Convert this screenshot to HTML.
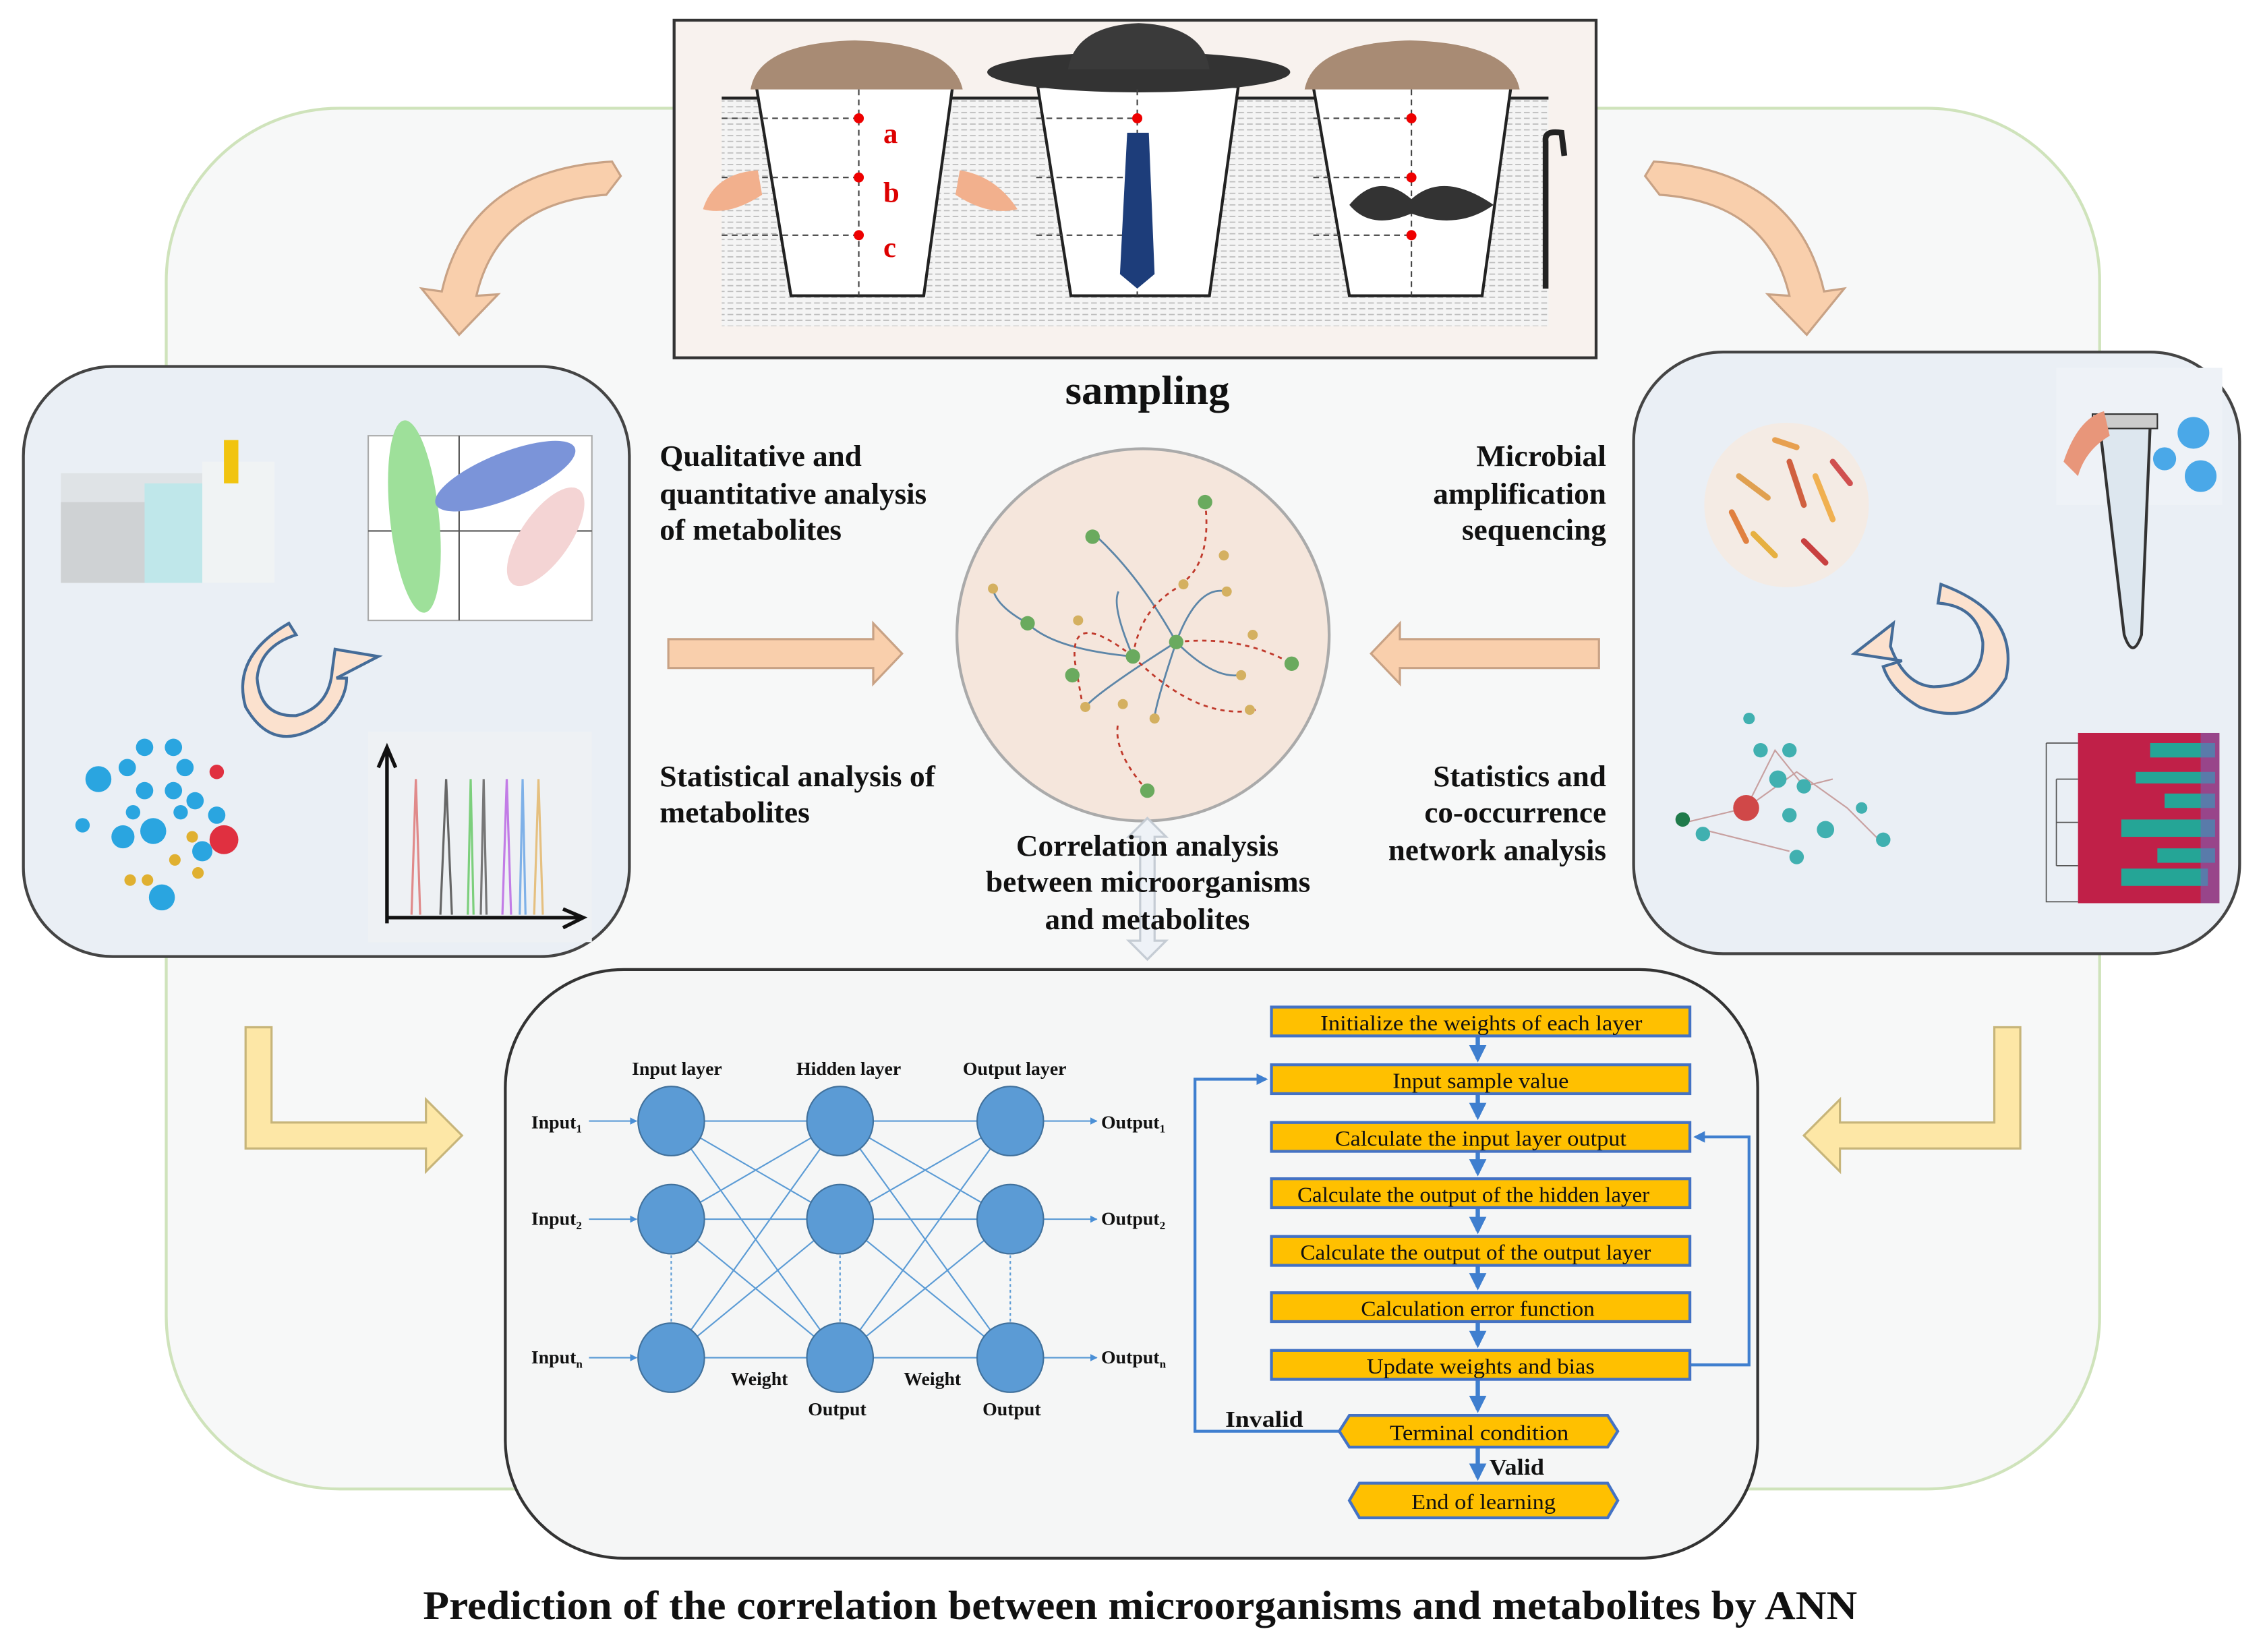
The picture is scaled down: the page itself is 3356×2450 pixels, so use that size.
<!DOCTYPE html>
<html><head><meta charset="utf-8"><style>
html,body{margin:0;padding:0;background:#fff}
svg{display:block}
text{font-family:"Liberation Serif",serif;font-weight:bold;fill:#111}
text.n{font-weight:normal}
</style></head><body>
<svg width="3356" height="2450" viewBox="0 0 1568 1145" xmlns="http://www.w3.org/2000/svg">
<defs>
<pattern id="hatch" width="6" height="4" patternUnits="userSpaceOnUse"><rect width="6" height="4" fill="#f4f4f4"/><line x1="0" y1="2" x2="4" y2="2" stroke="#bbb" stroke-width="0.8"/></pattern>
<marker id="ah" viewBox="0 0 10 10" refX="9" refY="5" markerWidth="5" markerHeight="5" orient="auto"><path d="M0,0L10,5L0,10z" fill="#4a8fd6"/></marker>
<marker id="ab" viewBox="0 0 10 10" refX="8" refY="5" markerWidth="4" markerHeight="4" orient="auto"><path d="M0,0L10,5L0,10z" fill="#3f7fcf"/></marker>
</defs>
<rect width="1568" height="1145" fill="#fff"/>
<rect x="115" y="75" width="1340" height="957" rx="120" fill="#f7f8f8" stroke="#cfe3bb" stroke-width="2"/>

<!-- sampling box -->
<rect x="467" y="14" width="639" height="234" fill="#f8f2ee" stroke="#333" stroke-width="2"/>
<rect x="500" y="68" width="573" height="158" fill="url(#hatch)"/>
<line x1="500" y1="68" x2="1073" y2="68" stroke="#222" stroke-width="2"/>
<g stroke="#222" stroke-width="2" fill="#fff">
<path d="M524,60 L660,60 L640,205 L548,205 Z"/>
<path d="M719,60 L858,60 L838,205 L742,205 Z"/>
<path d="M910,60 L1047,60 L1027,205 L935,205 Z"/>
</g>
<path d="M520,62 Q525,30 592,28 Q660,30 667,62 Z" fill="#a88b74"/>
<path d="M904,62 Q910,30 977,28 Q1047,30 1053,62 Z" fill="#a88b74"/>
<ellipse cx="789" cy="50" rx="105" ry="14" fill="#333"/>
<path d="M740,48 Q745,18 789,16 Q834,18 838,48 Z" fill="#3a3a3a"/>
<g stroke="#444" stroke-width="1" stroke-dasharray="4,3" fill="none">
<line x1="595" y1="62" x2="595" y2="205"/><line x1="788" y1="62" x2="788" y2="205"/><line x1="978" y1="62" x2="978" y2="205"/>
<line x1="500" y1="82" x2="595" y2="82"/><line x1="500" y1="123" x2="595" y2="123"/><line x1="500" y1="163" x2="595" y2="163"/>
<line x1="718" y1="82" x2="788" y2="82"/><line x1="718" y1="123" x2="788" y2="123"/><line x1="718" y1="163" x2="788" y2="163"/>
<line x1="910" y1="82" x2="978" y2="82"/><line x1="910" y1="123" x2="978" y2="123"/><line x1="910" y1="163" x2="978" y2="163"/>
</g>
<g fill="#e00"><circle cx="595" cy="82" r="3.5"/><circle cx="595" cy="123" r="3.5"/><circle cx="595" cy="163" r="3.5"/><circle cx="788" cy="82" r="3.5"/><circle cx="978" cy="82" r="3.5"/><circle cx="978" cy="123" r="3.5"/><circle cx="978" cy="163" r="3.5"/></g>
<text x="612" y="99" font-size="20" style="fill:#d00">a</text>
<text x="612" y="140" font-size="20" style="fill:#d00">b</text>
<text x="612" y="178" font-size="20" style="fill:#d00">c</text>
<path d="M781,92 L796,92 L800,190 L788,200 L776,190 Z" fill="#1d3d7a"/>
<path d="M935,142 Q955,118 978,138 Q1000,118 1035,142 Q1010,160 978,148 Q950,160 935,142 Z" fill="#333"/>
<path d="M1071,200 L1071,98 Q1070,90 1082,92 L1084,108" stroke="#222" stroke-width="4" fill="none"/>
<path d="M487,145 Q495,120 525,118 L528,135 Q505,150 487,145 Z" fill="#f2b08d"/>
<path d="M665,118 Q690,122 705,145 Q685,150 662,135 Z" fill="#f2b08d"/>
<text x="738" y="280" font-size="28" textLength="114" lengthAdjust="spacingAndGlyphs">sampling</text>

<!-- curved arrows -->
<g fill="#f9cfac" stroke="#c8a285" stroke-width="1.5">
<path d="M430,122 L420,135 Q345,140 330,205 L345,204 L318,232 L292,200 L306,202 Q325,118 424,112 Z"/>
<path d="M1140,122 L1150,135 Q1225,140 1240,205 L1225,204 L1252,232 L1278,200 L1264,202 Q1245,118 1146,112 Z"/>
</g>

<!-- left panel -->
<rect x="16" y="254" width="420" height="409" rx="62" fill="#eaeff5" stroke="#444" stroke-width="2"/>
<rect x="42" y="328" width="148" height="76" fill="#dfe3e6"/>
<rect x="42" y="348" width="60" height="56" fill="#cfd2d4"/>
<rect x="100" y="335" width="40" height="69" fill="#bfe7ea"/>
<rect x="140" y="320" width="50" height="84" fill="#f0f3f4"/>
<rect x="155" y="305" width="10" height="30" fill="#f1c40f"/>
<rect x="255" y="302" width="155" height="128" fill="#fff" stroke="#aaa" stroke-width="1"/>
<line x1="318" y1="302" x2="318" y2="430" stroke="#555"/><line x1="255" y1="368" x2="410" y2="368" stroke="#555"/>
<ellipse cx="287" cy="358" rx="17" ry="67" transform="rotate(-6 287 358)" fill="#9ee09a"/>
<ellipse cx="350" cy="330" rx="52" ry="16" transform="rotate(-22 350 330)" fill="#7b94d9"/>
<ellipse cx="378" cy="372" rx="17" ry="40" transform="rotate(35 378 372)" fill="#f4d4d4"/>
<path d="M200,432 Q160,455 170,490 Q190,525 225,500 Q240,485 240,470 L233,470 L262,455 L232,450 L230,465 Q228,490 205,496 Q180,497 178,470 Q180,448 205,440 Z" fill="#fbe1ce" stroke="#456c98" stroke-width="2"/>
<g fill="#2aa5e0"><circle cx="100" cy="518" r="6"/><circle cx="120" cy="518" r="6"/><circle cx="88" cy="532" r="6"/><circle cx="128" cy="532" r="6"/><circle cx="100" cy="548" r="6"/><circle cx="120" cy="548" r="6"/><circle cx="68" cy="540" r="9"/><circle cx="150" cy="565" r="6"/><circle cx="135" cy="555" r="6"/><circle cx="106" cy="576" r="9"/><circle cx="85" cy="580" r="8"/><circle cx="57" cy="572" r="5"/><circle cx="140" cy="590" r="7"/><circle cx="112" cy="622" r="9"/><circle cx="92" cy="563" r="5"/><circle cx="125" cy="563" r="5"/></g>
<g fill="#e0b030"><circle cx="133" cy="580" r="4"/><circle cx="121" cy="596" r="4"/><circle cx="90" cy="610" r="4"/><circle cx="102" cy="610" r="4"/><circle cx="137" cy="605" r="4"/></g>
<circle cx="155" cy="582" r="10" fill="#e03040"/><circle cx="150" cy="535" r="5" fill="#e03040"/>
<rect x="255" y="507" width="155" height="146" fill="#eef1f4"/>
<g fill="none" stroke-width="1.5"><path d="M268,640 L268,520 M262,532 L268,518 L274,532" stroke="#111" stroke-width="2.5"/><path d="M268,636 L402,636 M390,630 L404,636 L390,643" stroke="#111" stroke-width="2.5"/>
<path d="M285,634 L288,540 L291,634" stroke="#e08a8a"/><path d="M305,634 L309,540 L313,634" stroke="#666"/><path d="M324,634 L326,540 L328,634" stroke="#7ccf7c"/><path d="M333,634 L335,540 L337,634" stroke="#777"/><path d="M348,634 L351,540 L354,634" stroke="#c27ce6"/><path d="M360,634 L362,540 L364,634" stroke="#7fb1e8"/><path d="M370,634 L373,540 L376,634" stroke="#e5c080"/></g>

<!-- right panel -->
<rect x="1132" y="244" width="420" height="417" rx="62" fill="#eaeff5" stroke="#444" stroke-width="2"/>
<circle cx="1238" cy="350" r="57" fill="#f4ebe4"/>
<g stroke-width="4" stroke-linecap="round"><path d="M1205,330 L1225,345" stroke="#e0a050"/><path d="M1240,320 L1250,350" stroke="#d06040"/><path d="M1215,370 L1230,385" stroke="#e6b040"/><path d="M1258,330 L1270,360" stroke="#f0b050"/><path d="M1250,375 L1265,390" stroke="#c84040"/><path d="M1200,355 L1210,375" stroke="#e08040"/><path d="M1230,305 L1245,310" stroke="#e7a050"/><path d="M1270,320 L1282,335" stroke="#d05050"/></g>
<rect x="1425" y="255" width="115" height="95" fill="#eef2f7"/>
<path d="M1455,295 L1490,295 L1484,440 Q1478,458 1472,440 Z" fill="#dde7ef" stroke="#333" stroke-width="2"/>
<rect x="1450" y="287" width="45" height="10" fill="#ccc" stroke="#333"/>
<circle cx="1520" cy="300" r="11" fill="#4aa8e8"/><circle cx="1525" cy="330" r="11" fill="#4aa8e8"/><circle cx="1500" cy="318" r="8" fill="#4aa8e8"/>
<path d="M1430,320 Q1440,290 1458,285 L1462,302 Q1445,312 1440,330 Z" fill="#e8967a"/>
<path d="M1345,405 Q1400,425 1390,470 Q1370,505 1330,490 Q1310,478 1305,462 L1318,458 L1285,453 L1312,432 L1310,448 Q1320,475 1340,476 Q1375,475 1374,445 Q1370,420 1343,418 Z" fill="#fbe1ce" stroke="#456c98" stroke-width="2"/>
<g stroke="#c8a0a0" stroke-width="1" fill="none"><path d="M1168,570 L1210,560 L1245,535 L1280,560 L1305,585 M1210,560 L1230,520 L1250,545 L1270,540 M1180,575 L1240,590"/></g>
<g fill="#40b0b0"><circle cx="1212" cy="498" r="4"/><circle cx="1220" cy="520" r="5"/><circle cx="1240" cy="520" r="5"/><circle cx="1232" cy="540" r="6"/><circle cx="1250" cy="545" r="5"/><circle cx="1265" cy="575" r="6"/><circle cx="1290" cy="560" r="4"/><circle cx="1305" cy="582" r="5"/><circle cx="1180" cy="578" r="5"/><circle cx="1245" cy="594" r="5"/><circle cx="1240" cy="565" r="5"/></g>
<circle cx="1210" cy="560" r="9" fill="#d04848"/><circle cx="1166" cy="568" r="5" fill="#1f7a4a"/>
<rect x="1440" y="508" width="98" height="118" fill="#c02048"/>
<g fill="#25a596"><rect x="1490" y="515" width="45" height="10"/><rect x="1480" y="535" width="55" height="8"/><rect x="1500" y="550" width="35" height="10"/><rect x="1470" y="568" width="65" height="12"/><rect x="1495" y="588" width="40" height="10"/><rect x="1470" y="602" width="60" height="12"/></g>
<rect x="1525" y="508" width="13" height="118" fill="#7d5fb8" opacity="0.6"/>
<g stroke="#555" stroke-width="0.8" fill="none"><path d="M1418,515 L1440,515 M1418,515 L1418,625 L1440,625 M1425,540 L1440,540 M1425,570 L1440,570 M1425,600 L1440,600 M1425,540 L1425,600"/></g>

<!-- center circle -->
<circle cx="792" cy="440" r="129" fill="#f5e6dc" stroke="#aaa" stroke-width="2"/>
<g fill="none" stroke-width="1.3">
<g stroke="#5d86a8"><path d="M815,445 Q790,400 760,372"/><path d="M815,445 Q830,405 850,410"/><path d="M785,455 Q730,450 712,432 Q690,420 688,408"/><path d="M815,445 Q760,480 752,490"/><path d="M815,445 Q840,470 858,468"/><path d="M815,445 Q800,490 800,498"/><path d="M785,455 Q770,420 775,410"/></g>
<g stroke="#c0392b" stroke-dasharray="3,3"><path d="M835,348 Q840,390 818,405"/><path d="M785,455 Q740,420 745,460 L750,488"/><path d="M815,445 Q860,440 895,460"/><path d="M795,548 Q770,520 775,500"/><path d="M785,455 Q830,500 870,492"/><path d="M820,405 Q790,420 785,455"/></g>
</g>
<g fill="#6aaa5e"><circle cx="835" cy="348" r="5"/><circle cx="757" cy="372" r="5"/><circle cx="712" cy="432" r="5"/><circle cx="815" cy="445" r="5"/><circle cx="785" cy="455" r="5"/><circle cx="743" cy="468" r="5"/><circle cx="895" cy="460" r="5"/><circle cx="795" cy="548" r="5"/></g>
<g fill="#d4b060"><circle cx="848" cy="385" r="3.5"/><circle cx="820" cy="405" r="3.5"/><circle cx="688" cy="408" r="3.5"/><circle cx="850" cy="410" r="3.5"/><circle cx="747" cy="430" r="3.5"/><circle cx="860" cy="468" r="3.5"/><circle cx="752" cy="490" r="3.5"/><circle cx="778" cy="488" r="3.5"/><circle cx="800" cy="498" r="3.5"/><circle cx="866" cy="492" r="3.5"/><circle cx="868" cy="440" r="3.5"/></g>

<path d="M463,443 L605,443 L605,432 L625,453 L605,474 L605,463 L463,463 Z" fill="#f9cfac" stroke="#c8a285" stroke-width="1.5"/>
<path d="M1108,443 L970,443 L970,432 L950,453 L970,474 L970,463 L1108,463 Z" fill="#f9cfac" stroke="#c8a285" stroke-width="1.5"/>

<g font-size="21" lengthAdjust="spacingAndGlyphs">
<text x="457" y="323" textLength="140" lengthAdjust="spacingAndGlyphs">Qualitative and</text>
<text x="457" y="349" textLength="185" lengthAdjust="spacingAndGlyphs">quantitative analysis</text>
<text x="457" y="374" textLength="126" lengthAdjust="spacingAndGlyphs">of metabolites</text>
<text x="1023" y="323" textLength="90" lengthAdjust="spacingAndGlyphs">Microbial</text>
<text x="993" y="349" textLength="120" lengthAdjust="spacingAndGlyphs">amplification</text>
<text x="1013" y="374" textLength="100" lengthAdjust="spacingAndGlyphs">sequencing</text>
<text x="457" y="545" textLength="191" lengthAdjust="spacingAndGlyphs">Statistical analysis of</text>
<text x="457" y="570" textLength="104" lengthAdjust="spacingAndGlyphs">metabolites</text>
<text x="993" y="545" textLength="120" lengthAdjust="spacingAndGlyphs">Statistics and</text>
<text x="987" y="570" textLength="126" lengthAdjust="spacingAndGlyphs">co-occurrence</text>
<text x="962" y="596" textLength="151" lengthAdjust="spacingAndGlyphs">network analysis</text>
</g>
<path d="M795,567 L808,580 L800,580 L800,652 L808,652 L795,665 L782,652 L790,652 L790,580 L782,580 Z" fill="#eef2f7" stroke="#c5ccd4" stroke-width="1.5"/>
<g font-size="21">
<text x="704" y="593" textLength="182" lengthAdjust="spacingAndGlyphs">Correlation analysis</text>
<text x="683" y="618" textLength="225" lengthAdjust="spacingAndGlyphs">between microorganisms</text>
<text x="724" y="644" textLength="142" lengthAdjust="spacingAndGlyphs">and metabolites</text>
</g>

<path d="M170,712 L188,712 L188,778 L295,778 L295,762 L320,787 L295,812 L295,796 L170,796 Z" fill="#fde7a6" stroke="#c7b57a" stroke-width="1.5"/>
<path d="M1400,712 L1382,712 L1382,778 L1275,778 L1275,762 L1250,787 L1275,812 L1275,796 L1400,796 Z" fill="#fde7a6" stroke="#c7b57a" stroke-width="1.5"/>

<!-- bottom panel -->
<rect x="350" y="672" width="868" height="408" rx="82" fill="#f5f6f6" stroke="#333" stroke-width="2"/>
<g stroke="#5b9bd5" stroke-width="1">
<line x1="465" y1="777" x2="582" y2="777"/><line x1="465" y1="777" x2="582" y2="845"/><line x1="465" y1="777" x2="582" y2="941"/>
<line x1="465" y1="845" x2="582" y2="777"/><line x1="465" y1="845" x2="582" y2="845"/><line x1="465" y1="845" x2="582" y2="941"/>
<line x1="465" y1="941" x2="582" y2="777"/><line x1="465" y1="941" x2="582" y2="845"/><line x1="465" y1="941" x2="582" y2="941"/>
<line x1="582" y1="777" x2="700" y2="777"/><line x1="582" y1="777" x2="700" y2="845"/><line x1="582" y1="777" x2="700" y2="941"/>
<line x1="582" y1="845" x2="700" y2="777"/><line x1="582" y1="845" x2="700" y2="845"/><line x1="582" y1="845" x2="700" y2="941"/>
<line x1="582" y1="941" x2="700" y2="777"/><line x1="582" y1="941" x2="700" y2="845"/><line x1="582" y1="941" x2="700" y2="941"/>
<line x1="408" y1="777" x2="441" y2="777" marker-end="url(#ah)"/><line x1="408" y1="845" x2="441" y2="845" marker-end="url(#ah)"/><line x1="408" y1="941" x2="441" y2="941" marker-end="url(#ah)"/>
<line x1="723" y1="777" x2="760" y2="777" marker-end="url(#ah)"/><line x1="723" y1="845" x2="760" y2="845" marker-end="url(#ah)"/><line x1="723" y1="941" x2="760" y2="941" marker-end="url(#ah)"/>
<g stroke-dasharray="2,2"><line x1="465" y1="870" x2="465" y2="916"/><line x1="582" y1="870" x2="582" y2="916"/><line x1="700" y1="870" x2="700" y2="916"/></g>
</g>
<g fill="#5b9bd5" stroke="#41719c" stroke-width="1">
<ellipse cx="465" cy="777" rx="23" ry="24"/><ellipse cx="582" cy="777" rx="23" ry="24"/><ellipse cx="700" cy="777" rx="23" ry="24"/>
<ellipse cx="465" cy="845" rx="23" ry="24"/><ellipse cx="582" cy="845" rx="23" ry="24"/><ellipse cx="700" cy="845" rx="23" ry="24"/>
<ellipse cx="465" cy="941" rx="23" ry="24"/><ellipse cx="582" cy="941" rx="23" ry="24"/><ellipse cx="700" cy="941" rx="23" ry="24"/>
</g>
<g font-size="13" text-anchor="middle"><text x="469" y="745">Input layer</text><text x="588" y="745">Hidden layer</text><text x="703" y="745">Output layer</text>
<text x="526" y="960">Weight</text><text x="646" y="960">Weight</text><text x="580" y="981">Output</text><text x="701" y="981">Output</text></g>
<g font-size="13"><text x="368" y="782">Input<tspan font-size="8" dy="3">1</tspan></text><text x="368" y="849">Input<tspan font-size="8" dy="3">2</tspan></text><text x="368" y="945">Input<tspan font-size="8" dy="3">n</tspan></text>
<text x="763" y="782">Output<tspan font-size="8" dy="3">1</tspan></text><text x="763" y="849">Output<tspan font-size="8" dy="3">2</tspan></text><text x="763" y="945">Output<tspan font-size="8" dy="3">n</tspan></text></g>

<!-- flowchart -->
<g stroke="#3f7fcf" stroke-width="3" fill="none">
<line x1="1024" y1="718" x2="1024" y2="734" marker-end="url(#ab)"/><line x1="1024" y1="758" x2="1024" y2="774" marker-end="url(#ab)"/><line x1="1024" y1="798" x2="1024" y2="813" marker-end="url(#ab)"/><line x1="1024" y1="837" x2="1024" y2="853" marker-end="url(#ab)"/><line x1="1024" y1="877" x2="1024" y2="892" marker-end="url(#ab)"/><line x1="1024" y1="916" x2="1024" y2="932" marker-end="url(#ab)"/><line x1="1024" y1="956" x2="1024" y2="977" marker-end="url(#ab)"/><line x1="1024" y1="1003" x2="1024" y2="1024" marker-end="url(#ab)"/>
<path d="M928,992 L828,992 L828,748 L877,748" stroke-width="2" marker-end="url(#ab)"/>
<path d="M1171,946 L1212,946 L1212,788 L1175,788" stroke-width="2" marker-end="url(#ab)"/>
</g>
<g fill="#ffc000" stroke="#4472c4" stroke-width="2">
<rect x="881" y="698" width="290" height="20"/><rect x="881" y="738" width="290" height="20"/><rect x="881" y="778" width="290" height="20"/><rect x="881" y="817" width="290" height="20"/><rect x="881" y="857" width="290" height="20"/><rect x="881" y="896" width="290" height="20"/><rect x="881" y="936" width="290" height="20"/>
<path d="M935,981 L1114,981 L1121,992 L1114,1003 L935,1003 L928,992 Z"/>
<path d="M942,1028 L1114,1028 L1121,1040 L1114,1052 L942,1052 L935,1040 Z"/>
</g>
<g font-size="15">
<text class="n" x="915" y="714" textLength="223" lengthAdjust="spacingAndGlyphs">Initialize the weights of each layer</text>
<text class="n" x="965" y="754" textLength="122" lengthAdjust="spacingAndGlyphs">Input sample value</text>
<text class="n" x="925" y="794" textLength="202" lengthAdjust="spacingAndGlyphs">Calculate the input layer output</text>
<text class="n" x="899" y="833" textLength="244" lengthAdjust="spacingAndGlyphs">Calculate the output of the hidden layer</text>
<text class="n" x="901" y="873" textLength="243" lengthAdjust="spacingAndGlyphs">Calculate the output of the output layer</text>
<text class="n" x="943" y="912" textLength="162" lengthAdjust="spacingAndGlyphs">Calculation error function</text>
<text class="n" x="947" y="952" textLength="158" lengthAdjust="spacingAndGlyphs">Update weights and bias</text>
<text class="n" x="963" y="998" textLength="124" lengthAdjust="spacingAndGlyphs">Terminal condition</text>
<text class="n" x="978" y="1046" textLength="100" lengthAdjust="spacingAndGlyphs">End of learning</text>
</g>
<text x="849" y="989" font-size="16" textLength="54" lengthAdjust="spacingAndGlyphs">Invalid</text>
<text x="1032" y="1022" font-size="16" textLength="38" lengthAdjust="spacingAndGlyphs">Valid</text>

<text x="293" y="1122" font-size="28" textLength="994" lengthAdjust="spacingAndGlyphs">Prediction of the correlation between microorganisms and metabolites by ANN</text>
</svg>
</body></html>
